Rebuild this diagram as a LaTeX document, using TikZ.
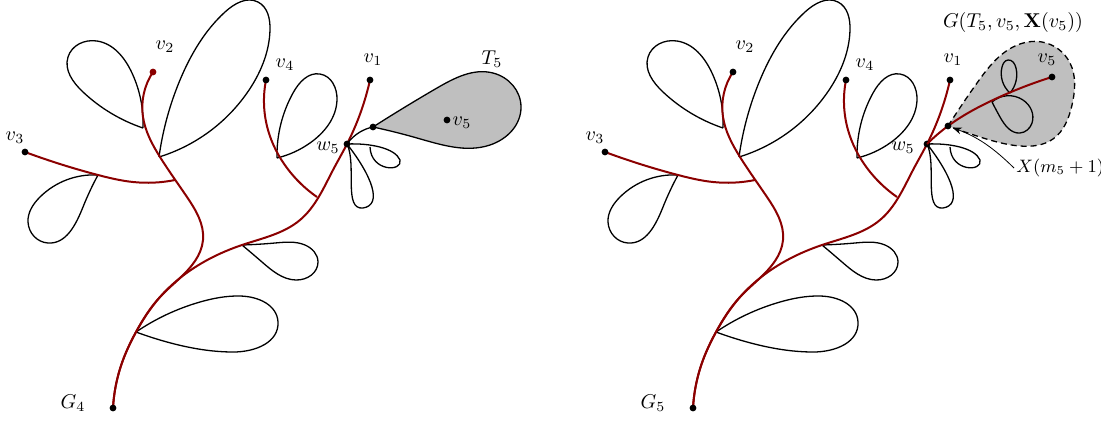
\documentclass[tikz,border=0pt]{standalone}
\usetikzlibrary{arrows.meta,hobby}
\definecolor{tred}{RGB}{139,0,0}
\definecolor{tgray}{RGB}{191,191,191}
\tikzset{
  x=0.5pt, y=-0.5pt,
  redline/.style={draw=tred, line width=1pt, use Hobby shortcut},
  loopline/.style={draw=black, line width=0.65pt, use Hobby shortcut},
  plainloop/.style={draw=black, line width=0.65pt},
  dot/.style={circle, fill=black, inner sep=0pt, minimum size=3.4pt},
  lbl/.style={inner sep=1pt},
  arrowline/.style={draw=black, line width=0.4pt, -{Stealth[length=4.5pt,width=3.5pt]}},
}
\newcommand\commontree[3]{%
  % named points
  \coordinate (g) at (113,408);
  \coordinate (v1) at (370,80);
  \coordinate (v2) at (153,72);
  \coordinate (v3) at (25,152);
  \coordinate (v4) at (266,80);
  \coordinate (w5) at (347,144);
  % loops
  \draw[loopline] (143,128) .. (132,73) .. (97,41) .. (68,57) .. (83,92) .. (143,128);
  \draw[loopline] (159,157) .. (180,80) .. (225,12) .. (258,2) .. (270,30) .. (247,93) .. (159,157);
  \draw[loopline] (98,175) .. (40,197) .. (28,222) .. (48,243) .. (83,207) .. (98,175);
  \draw[loopline] (277,158) .. (293,93) .. (320,74) .. (337,100) .. (310,143) .. (277,158);
  \draw[loopline] (242,245) .. (275,243) .. (305,245) .. (318,262) .. (296,280) .. (262,262) .. (242,245);
  \draw[loopline] (136,332) .. (200,302) .. (240,296) .. (278,322) .. (233,352) .. (167,342) .. (136,332);
  % small loops at w5
  \draw[plainloop] (w5) .. controls (370,143) and (395,148) .. (400,160) .. controls (403,172) and (371,172) .. (370,147);
  \draw[plainloop] (w5) .. controls (357,165) and (343,210) .. (363,208) .. controls (383,205) and (372,176) .. (w5);
  % red tree
  \draw[redline] (g) .. (123,360) .. (136,332) .. (160,297) .. (180,278) .. (203,240) .. (187,197) .. (160,157) .. (143,117) .. (v2);
  \draw[redline] (g) .. (123,360) .. (136,332) .. (160,297) .. (180,278) .. (242,245) .. (300,220) .. (333,170) .. (w5) .. (v1);
  \draw[redline] (v3) .. (98,175) .. (133,182) .. (175,180);
  \draw[redline] (v4) .. (268,130) .. (287,168) .. (317,197);
  % dots
  \node[dot] (gdot) at (g) {};
  \node[dot] (v1dot) at (v1) {};
  \node[dot, fill=#1] (v2dot) at (v2) {};
  \node[dot] (v3dot) at (v3) {};
  \node[dot] (v4dot) at (v4) {};
  \node[dot] (w5dot) at (w5) {};
  % labels
  \node[lbl] (v1lbl) at (373,60) {$v_1$};
  \node[lbl] (v2lbl) at (165,47) {$v_2$};
  \node[lbl] (v3lbl) at (15,138) {$v_3$};
  \node[lbl] (v4lbl) at (285,65) {$v_4$};
  \node[lbl] (w5lbl) at (#3,148) {$w_5$};
  \node[lbl] (glbl) at (73,403) {$#2$};
}
\begin{document}
\begin{tikzpicture}
\useasboundingbox (0,0) rectangle (1101,424);
% ---------------- left picture ----------------
\begin{scope}[name prefix=L-]
  \coordinate (tbase) at (373,127);
  \coordinate (v5) at (447,120);
  \filldraw[fill=tgray, loopline] (tbase) .. (437,88) .. (493,73) .. (521,107) .. (490,145) .. (417,138) .. (tbase);
  \commontree{tred}{G_4}{328}
  \draw[loopline] (w5) .. (360,132) .. (tbase);
  \node[dot] (tbasedot) at (tbase) {};
  \node[dot] (v5dot) at (v5) {};
  \node[lbl] (v5lbl) at (462,123) {$v_5$};
  \node[lbl] (t5lbl) at (492,59) {$T_5$};
\end{scope}
% ---------------- right picture ----------------
\begin{scope}[shift={(580,0)}, name prefix=R-]
  \coordinate (mbase) at (368,126);
  \coordinate (v5) at (472,77);
  \filldraw[fill=tgray, draw=black, line width=0.65pt, dash pattern=on 3pt off 2pt, use Hobby shortcut] (mbase) .. (397,83) .. (433,47) .. (462,42) .. (490,63) .. (492,105) .. (473,139) .. (440,146) .. (400,137) .. (mbase);
  \draw[loopline] (430,93) .. (422,67) .. (428,60) .. (436,68) .. (430,93);
  \draw[loopline] (412,102) .. (443,100) .. (452,123) .. (440,133) .. (420,117) .. (412,102);
  \commontree{black}{G_5}{323}
  \draw[redline] (w5) .. (mbase) .. (413,100) .. (v5);
  \node[dot] (mbasedot) at (mbase) {};
  \node[dot] (v5dot) at (v5) {};
  \node[lbl] (v5lbl) at (467,60) {$v_5$};
  \node[lbl] (glbl2) at (433,22) {$G(T_5,v_5,\mathbf{X}(v_5))$};
  \node[lbl, anchor=west, font=\small] (xlbl) at (434,168) {$X(m_5+1)$};
  \draw[arrowline, shorten >=2.5pt] (xlbl.west) to[bend right=12] (mbase);
\end{scope}
\end{tikzpicture}
\end{document}
